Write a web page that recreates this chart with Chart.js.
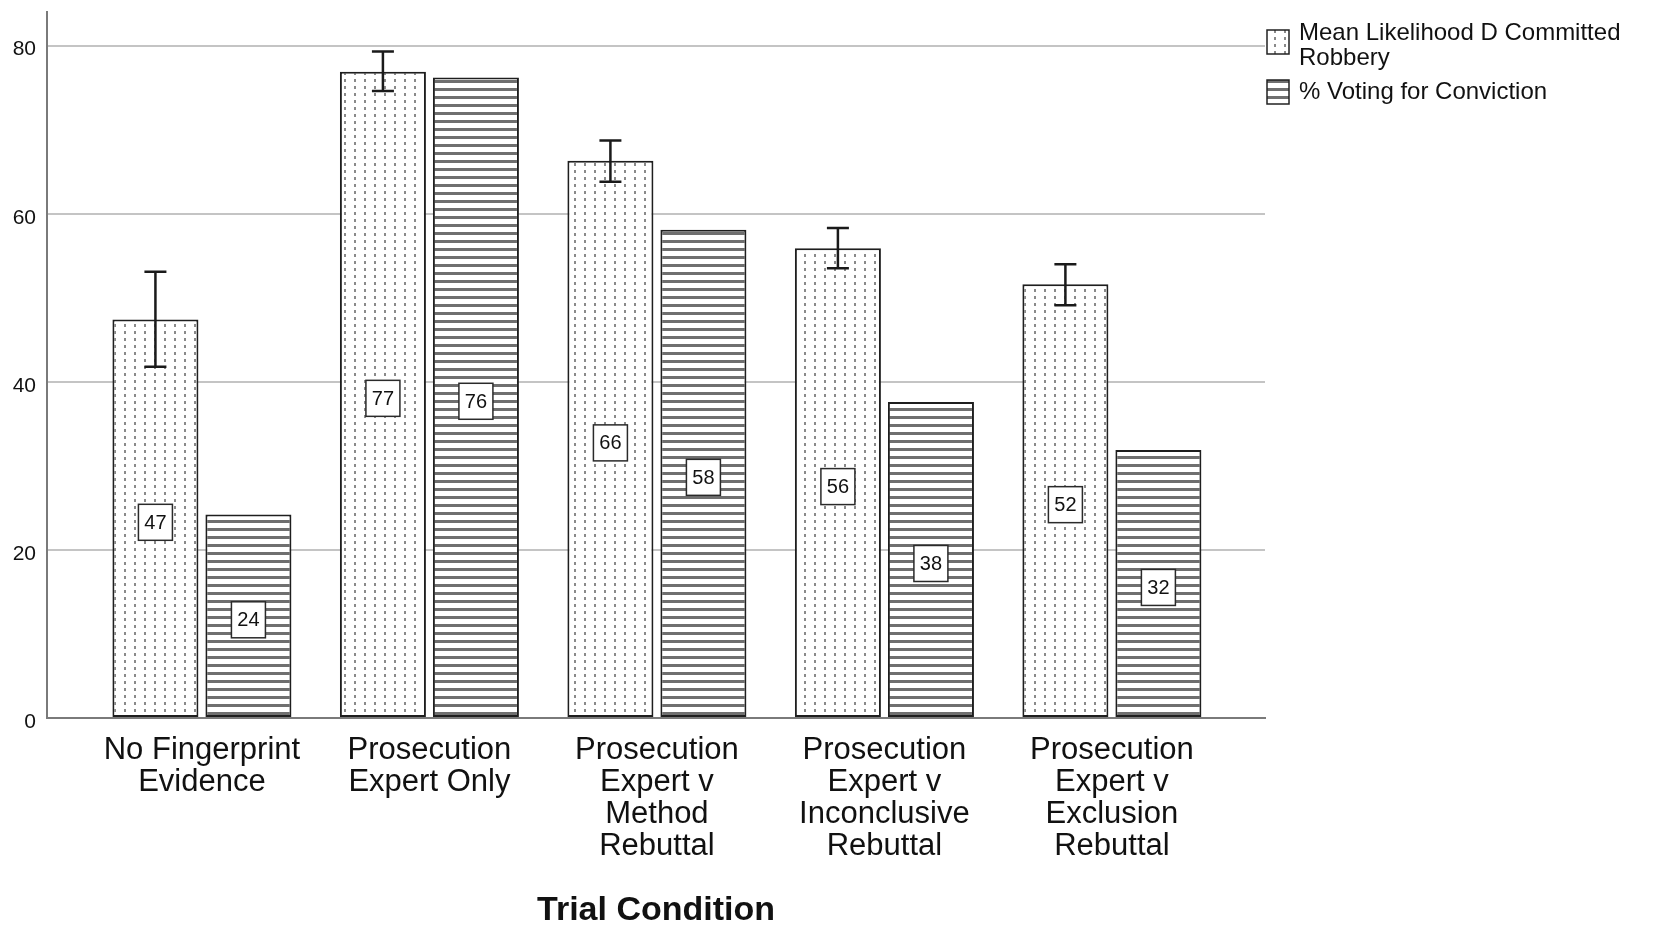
<!DOCTYPE html>
<html>
<head>
<meta charset="utf-8">
<script src="https://cdn.jsdelivr.net/npm/chart.js@4.4.1/dist/chart.umd.min.js"></script>
<style>
  html, body { margin: 0; padding: 0; background: #ffffff; }
  #wrap { width: 1659px; height: 926px; position: relative; }
</style>
</head>
<body>
<div id="wrap"><canvas id="c"></canvas></div>
<script>
// ---- data ----
const categories = [
  ["No Fingerprint", "Evidence"],
  ["Prosecution", "Expert Only"],
  ["Prosecution", "Expert v", "Method", "Rebuttal"],
  ["Prosecution", "Expert v", "Inconclusive", "Rebuttal"],
  ["Prosecution", "Expert v", "Exclusion", "Rebuttal"]
];
const seriesNames = [["Mean Likelihood D Committed", "Robbery"], ["% Voting for Conviction"]];
const meanLikelihood = [47.4, 76.9, 66.3, 55.9, 51.6];
const meanErrLow = [41.8, 74.6, 63.8, 53.5, 49.1];
const meanErrHigh = [53.1, 79.3, 68.7, 58.3, 54.0];
const pctConviction = [24.2, 76.2, 58.1, 37.6, 31.9];
const yTicks = [0, 20, 40, 60, 80];
const xAxisTitle = "Trial Condition";

const FONT = "'Liberation Sans', Arial, Helvetica, sans-serif";

// ---- patterns ----
function makeDotted() {
  const c = document.createElement('canvas');
  c.width = 10; c.height = 7;
  const g = c.getContext('2d');
  g.fillStyle = '#ffffff'; g.fillRect(0, 0, 10, 7);
  g.fillStyle = '#8a8a8a'; g.fillRect(4, 2, 2, 3);
  return g.createPattern(c, 'repeat');
}
function makeHatched() {
  const c = document.createElement('canvas');
  c.width = 8; c.height = 8;
  const g = c.getContext('2d');
  g.fillStyle = '#ffffff'; g.fillRect(0, 0, 8, 8);
  g.fillStyle = '#6f6f6f'; g.fillRect(0, 0, 8, 3);
  return g.createPattern(c, 'repeat');
}
const dotted = makeDotted();
const hatched = makeHatched();

// ---- plugins ----
const errorBars = {
  id: 'errorBars',
  afterDatasetsDraw(chart) {
    const ctx = chart.ctx;
    const meta = chart.getDatasetMeta(0);
    const y = chart.scales.y;
    ctx.save();
    ctx.strokeStyle = '#1a1a1a';
    ctx.lineWidth = 2.5;
    meta.data.forEach((el, i) => {
      const yl = y.getPixelForValue(meanErrLow[i]);
      const yh = y.getPixelForValue(meanErrHigh[i]);
      const x = el.x;
      ctx.beginPath();
      ctx.moveTo(x, yl); ctx.lineTo(x, yh);
      ctx.moveTo(x - 11, yl); ctx.lineTo(x + 11, yl);
      ctx.moveTo(x - 11, yh); ctx.lineTo(x + 11, yh);
      ctx.stroke();
    });
    ctx.restore();
  }
};

const valueLabels = {
  id: 'valueLabels',
  afterDatasetsDraw(chart) {
    const ctx = chart.ctx;
    ctx.save();
    ctx.font = '20px ' + FONT;
    ctx.textAlign = 'center';
    ctx.textBaseline = 'middle';
    chart.data.datasets.forEach((ds, di) => {
      const meta = chart.getDatasetMeta(di);
      meta.data.forEach((el, i) => {
        const v = ds.data[i].y;
        const cx = el.x, cy = (el.y + el.base) / 2 + 4;
        const w = 34, h = 36;
        ctx.fillStyle = '#ffffff';
        ctx.fillRect(cx - w / 2, cy - h / 2, w, h);
        ctx.strokeStyle = '#2a2a2a';
        ctx.lineWidth = 1.5;
        ctx.strokeRect(cx - w / 2, cy - h / 2, w, h);
        ctx.fillStyle = '#111111';
        ctx.fillText(String(Math.round(v)), cx, cy + 1);
      });
    });
    ctx.restore();
  }
};

const customLegend = {
  id: 'customLegend',
  afterDraw(chart) {
    const ctx = chart.ctx;
    const x0 = chart.chartArea.right + 2;
    const fills = [dotted, hatched];
    const boxes = [{ y: 30, lines: [33, 58] }, { y: 80, lines: [92] }];
    ctx.save();
    ctx.font = '24px ' + FONT;
    ctx.textBaseline = 'middle';
    ctx.textAlign = 'left';
    boxes.forEach((b, i) => {
      ctx.fillStyle = fills[i];
      ctx.fillRect(x0, b.y, 22, 24);
      ctx.strokeStyle = '#222222';
      ctx.lineWidth = 1.5;
      ctx.strokeRect(x0, b.y, 22, 24);
      ctx.fillStyle = '#111111';
      seriesNames[i].forEach((t, k) => ctx.fillText(t, x0 + 32, b.lines[k]));
    });
    ctx.restore();
  }
};

// ---- chart ----
new Chart(document.getElementById('c'), {
  type: 'bar',
  data: {
    datasets: [
      {
        label: seriesNames[0].join(' '),
        data: meanLikelihood.map((v, i) => ({ x: i, y: v })),
        backgroundColor: dotted,
        borderColor: '#1e1e1e',
        borderWidth: 2,
        borderSkipped: false
      },
      {
        label: seriesNames[1].join(' '),
        data: pctConviction.map((v, i) => ({ x: i, y: v })),
        backgroundColor: hatched,
        borderColor: '#1e1e1e',
        borderWidth: 2,
        borderSkipped: false
      }
    ]
  },
  options: {
    responsive: true,
    maintainAspectRatio: false,
    animation: false,
    categoryPercentage: 0.8176,
    barPercentage: 0.925,
    layout: { padding: { top: 12, right: 394, left: 0, bottom: 0 } },
    plugins: {
      legend: { display: false },
      tooltip: { enabled: false }
    },
    scales: {
      x: {
        type: 'linear',
        offset: false,
        min: -0.681,
        max: 4.673,
        afterBuildTicks(scale) { scale.ticks = categories.map((c, i) => ({ value: i })); },
        afterFit(scale) { scale.height = 208; scale.paddingLeft = 0; scale.paddingRight = 0; },
        grid: { display: false, drawTicks: false, offset: false },
        border: { display: true, color: '#7a7a7a', width: 2 },
        ticks: {
          autoSkip: false,
          maxRotation: 0,
          padding: 16,
          color: '#111111',
          font: { family: FONT, size: 31, lineHeight: '32px' },
          callback: (v) => categories[v]
        },
        title: {
          display: true,
          text: xAxisTitle,
          color: '#111111',
          padding: 0,
          font: { family: FONT, size: 34, weight: 'bold', lineHeight: '30px' }
        }
      },
      y: {
        min: 0,
        max: 84,
        afterBuildTicks(scale) { scale.ticks = yTicks.map(v => ({ value: v })); },
        afterFit(scale) { scale.width = 47; scale.paddingTop = 0; scale.paddingBottom = 0; },
        grid: { color: '#c4c4c4', lineWidth: 2, drawTicks: false },
        border: { display: true, color: '#7a7a7a', width: 2 },
        ticks: {
          padding: 11,
          labelOffset: 4,
          color: '#111111',
          font: { family: FONT, size: 21 }
        }
      }
    }
  },
  plugins: [errorBars, valueLabels, customLegend]
});
</script>
</body>
</html>
